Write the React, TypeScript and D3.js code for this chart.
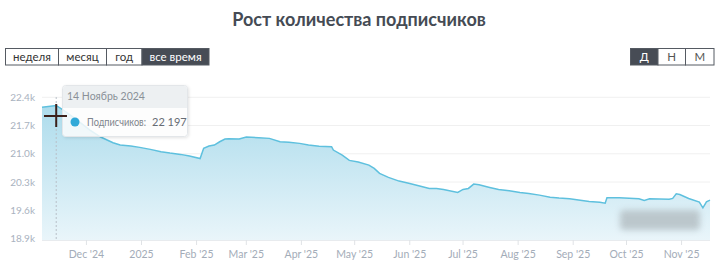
import React from "react";
import * as d3 from "d3";

const title = "Рост количества подписчиков";
const rangeButtons = ["неделя", "месяц", "год", "все время"];
const periodButtons = ["Д", "Н", "М"];
const yTicks = [18900, 19600, 20300, 21000, 21700, 22400];
const xTickDates = ["2024-12-01","2025-01-01","2025-02-01","2025-03-01","2025-04-01","2025-05-01","2025-06-01","2025-07-01","2025-08-01","2025-09-01","2025-10-01","2025-11-01"];
const xTickLabels = ["Dec '24","2025","Feb '25","Mar '25","Apr '25","May '25","Jun '25","Jul '25","Aug '25","Sep '25","Oct '25","Nov '25"];

const dates = [
  "2024-11-06","2024-11-14","2024-11-18","2024-11-25","2024-12-03","2024-12-09","2024-12-16","2024-12-20","2024-12-26","2024-12-31",
  "2025-01-06","2025-01-12","2025-01-17","2025-01-23","2025-01-28","2025-02-03","2025-02-05","2025-02-08","2025-02-11","2025-02-14",
  "2025-02-17","2025-02-19","2025-02-25","2025-03-01","2025-03-08","2025-03-14","2025-03-20","2025-03-25","2025-03-31","2025-04-05",
  "2025-04-11","2025-04-18","2025-04-19","2025-04-24","2025-04-28","2025-05-03","2025-05-09","2025-05-12","2025-05-15","2025-05-20",
  "2025-05-26","2025-06-01","2025-06-06","2025-06-12","2025-06-16","2025-06-20","2025-06-28","2025-07-01","2025-07-04","2025-07-07",
  "2025-07-10","2025-07-16","2025-07-21","2025-07-27","2025-08-02","2025-08-07","2025-08-13","2025-08-19","2025-08-24","2025-08-30",
  "2025-09-05","2025-09-10","2025-09-16","2025-09-19","2025-09-20","2025-09-27","2025-10-08","2025-10-11","2025-10-14","2025-10-25",
  "2025-10-27","2025-10-29","2025-10-31","2025-11-05","2025-11-11","2025-11-13","2025-11-15","2025-11-17"
];
const subscribers = [
  22152,22197,22085,21861,21588,21415,21273,21216,21191,21159,
  21109,21050,21017,20985,20943,20881,21134,21191,21216,21298,
  21365,21372,21365,21415,21397,21382,21298,21283,21258,21216,
  21184,21174,21092,20968,20836,20794,20720,20638,20514,20414,
  20323,20265,20206,20141,20141,20116,20042,20116,20141,20248,
  20231,20166,20116,20082,20042,20017,19975,19925,19901,19883,
  19851,19819,19801,19776,19908,19908,19883,19844,19883,19876,
  19893,20007,19992,19893,19801,19660,19809,19851
];
const hoverDate = "2024-11-14";
const hoverLabel = "14 Ноябрь 2024";
const hoverSeries = "Подписчиков:";
const hoverValue = "22 197";

const W = 717, H = 278;
const font = "Lato, 'Noto Sans', sans-serif";

export default function App() {
  const parse = d3.utcParse("%Y-%m-%d");
  const data = dates.map((d, i) => ({ date: parse(d)!, value: subscribers[i] }));
  const left = 42, right = 710, bottom = 240;
  const x = d3.scaleUtc().domain([data[0].date, data[data.length - 1].date]).range([left, right]);
  const y = d3.scaleLinear().domain([18900, 22400]).range([238.5, 97.3]);
  const area = d3.area<any>().x(d => x(d.date)).y0(bottom).y1(d => y(d.value)).curve(d3.curveLinear);
  const line = d3.line<any>().x(d => x(d.date)).y(d => y(d.value)).curve(d3.curveLinear);
  const hx = x(parse(hoverDate)!);

  const lw = [53, 48, 35.5, 67];
  let lx = 5;
  const leftBtns = rangeButtons.map((t, i) => { const b = { t, x: lx, w: lw[i], active: i === 3 }; lx += lw[i]; return b; });
  const rw = [27.5, 27.5, 28.5];
  let rx = 630;
  const rightBtns = periodButtons.map((t, i) => { const b = { t, x: rx, w: rw[i], active: i === 0 }; rx += rw[i]; return b; });

  return (
    <svg width={W} height={H} style={{ position: "absolute", left: 0, top: 0, background: "#fff" }} fontFamily={font}>
      <defs>
        <linearGradient id="ag" x1="0" y1="0" x2="0" y2="1">
          <stop offset="0" stopColor="#addcec" />
          <stop offset="1" stopColor="#e9f5fa" />
        </linearGradient>
        <filter id="blur" x="-20%" y="-50%" width="140%" height="200%">
          <feGaussianBlur stdDeviation="3" />
        </filter>
        <filter id="shadow" x="-10%" y="-10%" width="130%" height="140%">
          <feDropShadow dx="1" dy="1" stdDeviation="1.5" floodColor="#000" floodOpacity="0.12" />
        </filter>
      </defs>
      <text x={359} y={26} textAnchor="middle" fontSize={18} fontWeight={700} fill="#454b54">{title}</text>

      {leftBtns.map((b, i) => (
        <g key={i}>
          <rect x={b.x + 0.5} y={48.5} width={b.w} height={16.5} fill={b.active ? "#474c55" : "#fff"} stroke="#555a62" strokeWidth={1} />
          <text x={b.x + b.w / 2 + 0.5} y={60.5} textAnchor="middle" fontSize={11.5} fill={b.active ? "#fff" : "#333"}>{b.t}</text>
        </g>
      ))}
      {rightBtns.map((b, i) => (
        <g key={i}>
          <rect x={b.x + 0.5} y={48.5} width={b.w} height={16.5} fill={b.active ? "#474c55" : "#fff"} stroke="#555a62" strokeWidth={1} />
          <text x={b.x + b.w / 2 + 0.5} y={60.5} textAnchor="middle" fontSize={11.5} fill={b.active ? "#fff" : "#555"}>{b.t}</text>
        </g>
      ))}

      {yTicks.map(t => (
        <g key={t}>
          <line x1={left} x2={right} y1={y(t)} y2={y(t)} stroke="#f0f0f0" strokeWidth={1} />
          <text x={35} y={y(t) + 3.5} textAnchor="end" fontSize={10} fill="#a9b2c0">{(t / 1000).toFixed(1) + "k"}</text>
        </g>
      ))}

      <path d={area(data) || ""} fill="url(#ag)" />
      <path d={line(data) || ""} fill="none" stroke="#5ec0de" strokeWidth={1.5} />

      <line x1={left} x2={right} y1={bottom + 0.5} y2={bottom + 0.5} stroke="#e8ebee" strokeWidth={1} />
      {xTickDates.map((d, i) => {
        const tx = x(parse(d)!);
        return (
          <g key={d}>
            <line x1={tx} x2={tx} y1={bottom} y2={bottom + 5} stroke="#e0e3e6" />
            <text x={tx} y={258} textAnchor="middle" fontSize={10.5} fill="#a3acb8">{xTickLabels[i]}</text>
          </g>
        );
      })}

      <rect x={620} y={210} width={80} height={20} rx={4} fill="#b8c3c8" filter="url(#blur)" opacity={0.9} />

      <line x1={hx} x2={hx} y1={97} y2={bottom} stroke="#b9c0c8" strokeWidth={1} strokeDasharray="2,2" />

      <g filter="url(#shadow)">
        <rect x={62.5} y={85.5} width={125} height={51} rx={3} fill="rgba(255,255,255,0.82)" stroke="#e3e6e9" />
      </g>
      <path d="M63,108 L63,89 Q63,86 66,86 L184,86 Q187,86 187,89 L187,108 Z" fill="rgba(236,239,241,0.95)" />
      <text x={67} y={100} fontSize={10.5} fill="#8a9098">{hoverLabel}</text>
      <circle cx={75} cy={122} r={4.5} fill="#31a9d8" />
      <text x={87} y={125.5} fontSize={10.5} fill="#7d848c" textLength={59} lengthAdjust="spacingAndGlyphs">{hoverSeries}</text>
      <text x={152} y={125.5} fontSize={11} fill="#666c74">{hoverValue}</text>

      <line x1={hx} x2={hx} y1={104} y2={127} stroke="#3b201a" strokeWidth={2} />
      <line x1={44} x2={67} y1={116} y2={116} stroke="#3b201a" strokeWidth={2} />
    </svg>
  );
}
